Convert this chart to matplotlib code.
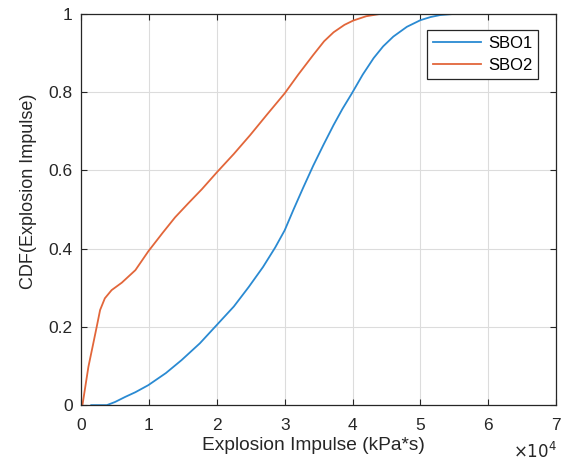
import matplotlib.pyplot as plt

# values, x in units of 1e4 kPa*s
sbo1_x = [0.15, 0.38, 0.5, 0.65, 0.8, 0.99, 1.25, 1.48, 1.75, 2.0, 2.25, 2.47, 2.68,
          2.86, 3.0, 3.13, 3.27, 3.42, 3.57, 3.72, 3.85, 3.99, 4.15, 4.31, 4.45,
          4.6, 4.8, 5.0, 5.15, 5.29, 5.5, 6.45]
sbo1_y = [0.0, 0.0, 0.008, 0.021, 0.033, 0.051, 0.082, 0.115, 0.158, 0.205, 0.252, 0.302,
          0.353, 0.403, 0.447, 0.5, 0.555, 0.612, 0.665, 0.716, 0.757, 0.797, 0.845,
          0.887, 0.917, 0.942, 0.967, 0.984, 0.992, 0.997, 1.0, 1.0]

sbo2_x = [0.02, 0.108, 0.18, 0.23, 0.28, 0.35, 0.45, 0.6, 0.8, 0.99, 1.2, 1.385, 1.58,
          1.78, 2.0, 2.25, 2.49, 2.75, 3.0, 3.2, 3.42, 3.58, 3.72, 3.88, 4.01, 4.2,
          4.41, 5.3]
sbo2_y = [0.0, 0.098, 0.158, 0.2, 0.243, 0.273, 0.294, 0.313, 0.345, 0.393, 0.44, 0.48,
          0.516, 0.552, 0.595, 0.642, 0.69, 0.745, 0.797, 0.845, 0.895, 0.93, 0.953,
          0.972, 0.983, 0.994, 1.0, 1.0]

x_ticks = [0, 1, 2, 3, 4, 5, 6, 7]
y_ticks = [0, 0.2, 0.4, 0.6, 0.8, 1]
y_tick_labels = ['0', '0.2', '0.4', '0.6', '0.8', '1']

plt.rcParams['font.family'] = ['Liberation Sans', 'DejaVu Sans']

fig = plt.figure(figsize=(5.67, 4.63), dpi=100)
ax = fig.add_axes([0.143, 0.125, 0.838, 0.845])

ax.plot(sbo1_x, sbo1_y, color='#2a8ad2', lw=1.3, label='SBO1')
ax.plot(sbo2_x, sbo2_y, color='#e2663a', lw=1.3, label='SBO2')

ax.set_xlim(0, 7)
ax.set_ylim(0, 1)
ax.set_xticks(x_ticks)
ax.set_yticks(y_ticks)
ax.set_yticklabels(y_tick_labels)
ax.grid(True, color='#dcdcdc', lw=0.8)
ax.set_axisbelow(True)

ax.tick_params(direction='in', length=4, width=0.8, colors='#262626',
               labelsize=12.5, top=True, right=True, labeltop=False, labelright=False)
ax.tick_params(axis='x', pad=9)
ax.tick_params(axis='y', pad=6)
for s in ax.spines.values():
    s.set_color('#262626')
    s.set_linewidth(0.9)
    s.set_zorder(3)

ax.set_xlabel('Explosion Impulse (kPa*s)', fontsize=13.8, color='#262626')
ax.set_ylabel('CDF(Explosion Impulse)', fontsize=13, color='#262626')
ax.xaxis.set_label_coords(0.488, -0.082)
ax.yaxis.set_label_coords(-0.093, 0.547)
fig.text(0.983, 0.004, r'$\times10^{4}$', ha='right', va='bottom',
         fontsize=12, color='#262626')

leg = ax.legend(loc='upper right', bbox_to_anchor=(0.962, 0.959), borderaxespad=0,
                fontsize=12, fancybox=False, framealpha=1, edgecolor='#262626',
                handlelength=2.9, borderpad=0.35, labelspacing=0.45, handletextpad=0.4)
leg.get_frame().set_linewidth(0.9)

fig.savefig('out.png', dpi=100)
